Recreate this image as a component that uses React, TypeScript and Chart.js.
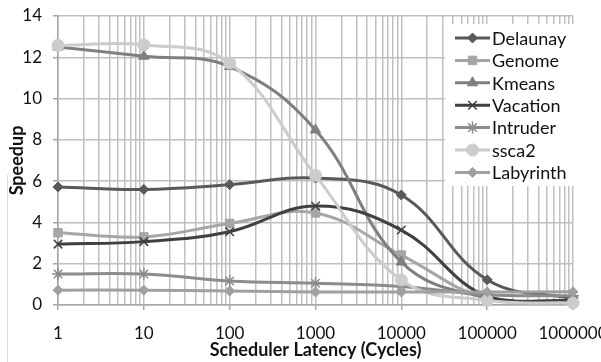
import React, { useEffect, useRef } from "react";
import { Chart, registerables } from "chart.js";
import { drawPoint } from "chart.js/helpers";

Chart.register(...registerables);

const latencies = [1, 10, 100, 1000, 10000, 100000, 1000000];
const seriesNames = ["Delaunay", "Genome", "Kmeans", "Vacation", "Intruder", "ssca2", "Labyrinth"];
const delaunay = [5.72, 5.6, 5.83, 6.15, 5.33, 1.22, 0.3];
const genome = [3.5, 3.3, 3.95, 4.46, 2.42, 0.3, 0.15];
const kmeans = [12.5, 12.05, 11.55, 8.48, 2.08, 0.35, 0.2];
const vacation = [2.95, 3.07, 3.55, 4.8, 3.63, 0.4, 0.2];
const intruder = [1.5, 1.5, 1.16, 1.05, 0.9, 0.5, 0.45];
const ssca2 = [12.58, 12.6, 11.72, 6.28, 1.21, 0.22, 0.1];
const labyrinth = [0.72, 0.72, 0.68, 0.63, 0.63, 0.63, 0.64];
const seriesValues = [delaunay, genome, kmeans, vacation, intruder, ssca2, labyrinth];

const colors = ["#595959", "#a6a6a6", "#7f7f7f", "#404040", "#8c8c8c", "#cccccc", "#a0a0a0"];
const styles = ["rectRot", "rect", "triangle", "crossRot", "star", "circle", "rectRot"];
const radii = [5, 6, 6, 6, 6, 6, 5];

const FONT = "Lato, 'Liberation Sans', sans-serif";

const legendPlugin = {
  id: "boxLegend",
  afterDatasetsDraw(chart: any) {
    const ctx = chart.ctx;
    ctx.save();
    ctx.fillStyle = "#ffffff";
    ctx.fillRect(445, 24, 131, 162);
    const x0 = 455, x1 = 490, y0 = 38, pitch = 22.4;
    chart.data.datasets.forEach((ds: any, i: number) => {
      const y = y0 + i * pitch;
      ctx.strokeStyle = ds.borderColor;
      ctx.lineWidth = 3;
      ctx.beginPath();
      ctx.moveTo(x0, y);
      ctx.lineTo(x1, y);
      ctx.stroke();
      ctx.fillStyle = ds.pointBackgroundColor;
      ctx.strokeStyle = ds.pointBorderColor;
      ctx.lineWidth = ds.pointBorderWidth;
      drawPoint(ctx, { pointStyle: ds.pointStyle, radius: ds.pointRadius, borderWidth: ds.pointBorderWidth, rotation: 0 }, (x0 + x1) / 2, y);
      ctx.fillStyle = "#111111";
      ctx.font = "18px " + FONT;
      ctx.textAlign = "left";
      ctx.textBaseline = "middle";
      ctx.fillText(ds.label, x1 + 2, y + 1);
    });
    ctx.restore();
  },
  afterDraw(chart: any) {
    const ctx = chart.ctx;
    ctx.save();
    ctx.strokeStyle = "#d9d9d9";
    ctx.lineWidth = 1;
    ctx.beginPath();
    ctx.moveTo(7.5, 175);
    ctx.lineTo(7.5, 362);
    ctx.stroke();
    ctx.restore();
  },
};

export default function App() {
  const ref = useRef<HTMLCanvasElement>(null);
  useEffect(() => {
    document.body.style.margin = "0";
    const canvas = ref.current!;
    const chart = new Chart(canvas, {
      type: "line",
      data: {
        datasets: seriesNames.map((name, i) => ({
          label: name,
          data: latencies.map((x, j) => ({ x, y: seriesValues[i][j] })),
          borderColor: colors[i],
          backgroundColor: colors[i],
          pointBackgroundColor: colors[i],
          pointBorderColor: colors[i],
          pointBorderWidth: styles[i] === "crossRot" || styles[i] === "star" ? 1.5 : 1,
          pointStyle: styles[i],
          pointRadius: radii[i],
          borderWidth: 3,
          tension: 0.4,
          fill: false,
          clip: false as any,
          order: seriesNames.length - i,
        })),
      },
      options: {
        animation: false,
        responsive: false,
        layout: { padding: { left: 0, right: 28, top: 16, bottom: 0 } },
        plugins: { legend: { display: false }, tooltip: { enabled: false } },
        scales: {
          x: {
            type: "logarithmic",
            min: 1,
            max: 1000000,
            afterBuildTicks(scale: any) {
              const t: any[] = [];
              for (let d = 0; d < 6; d++) {
                for (let m = 1; m <= 9; m++) t.push({ value: m * Math.pow(10, d), major: m === 1 });
              }
              t.push({ value: 1000000, major: true });
              scale.ticks = t;
            },
            afterFit(scale: any) {
              scale.height = 57;
              scale.paddingLeft = 0;
              scale.paddingRight = 0;
            },
            ticks: {
              autoSkip: false,
              maxRotation: 0,
              padding: 13,
              color: "#111111",
              font: { family: FONT, size: 17 },
              callback: (v: any) => {
                const l = Math.log10(Number(v));
                return Math.abs(l - Math.round(l)) < 1e-9 ? String(Math.round(Math.pow(10, Math.round(l)))) : "";
              },
            },
            grid: {
              color: "#c0c0c0",
              lineWidth: 1.5,
              tickLength: 5,
              tickColor: (c: any) => {
                const l = Math.log10(Number(c.tick?.value));
                return Math.abs(l - Math.round(l)) < 1e-9 ? "#a6a6a6" : "rgba(0,0,0,0)";
              },
            },
            border: { color: "#a6a6a6", width: 1.5 },
            title: {
              display: true,
              text: "Scheduler Latency (Cycles)",
              color: "#111111",
              font: { family: FONT, size: 18, weight: "bold" },
              padding: { top: 0, bottom: 1 },
            },
          },
          y: {
            type: "linear",
            min: 0,
            max: 14,
            afterFit(scale: any) {
              scale.width = 58;
              scale.paddingTop = 0;
              scale.paddingBottom = 0;
            },
            ticks: {
              stepSize: 2,
              padding: 11,
              color: "#111111",
              font: { family: FONT, size: 17 },
            },
            grid: { color: "#c0c0c0", lineWidth: 1.5, tickLength: 5, tickColor: "#a6a6a6" },
            border: { color: "#a6a6a6", width: 1.5 },
            title: {
              display: true,
              text: "Speedup",
              color: "#111111",
              font: { family: FONT, size: 18, weight: "bold" },
              padding: { top: 6, bottom: 0 },
            },
          },
        },
      },
      plugins: [legendPlugin],
    } as any);
    return () => chart.destroy();
  }, []);
  return <canvas ref={ref} width={601} height={362} style={{ display: "block" }} />;
}
